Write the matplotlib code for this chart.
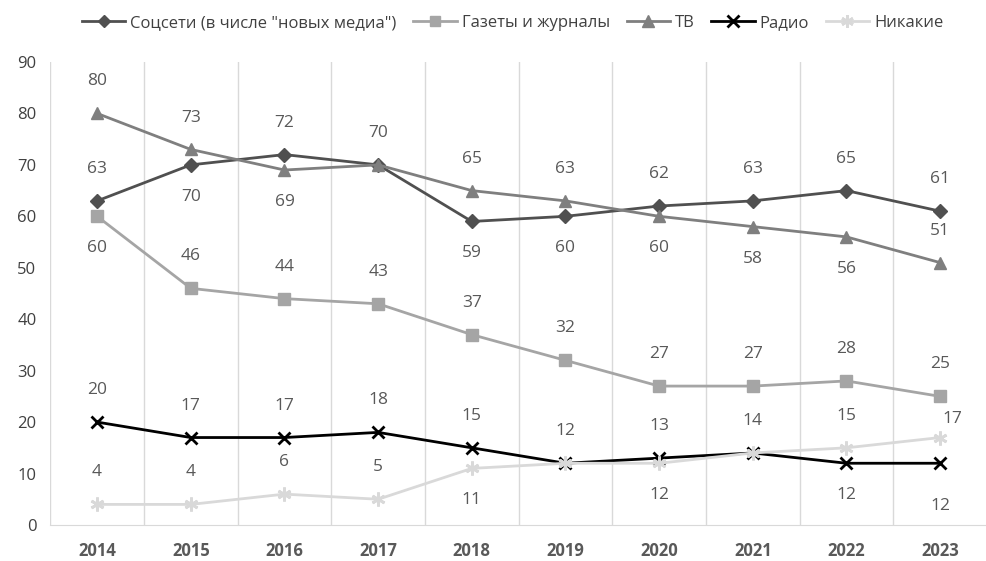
import matplotlib
matplotlib.use("Agg")
import matplotlib.pyplot as plt
from matplotlib.lines import Line2D
import numpy as np

years = ["2014", "2015", "2016", "2017", "2018", "2019", "2020", "2021", "2022", "2023"]
soc = [63, 70, 72, 70, 59, 60, 62, 63, 65, 61]
gaz = [60, 46, 44, 43, 37, 32, 27, 27, 28, 25]
tv = [80, 73, 69, 70, 65, 63, 60, 58, 56, 51]
radio = [20, 17, 17, 18, 15, 12, 13, 14, 12, 12]
none_ = [4, 4, 6, 5, 11, 12, 12, 14, 15, 17]
names = ['Соцсети (в числе "новых медиа")', "Газеты и журналы", "ТВ", "Радио", "Никакие"]

# label placement: a = above, b = below, d = far below, r = above right, n = hidden
pos_soc = "abaabbaaaa"
pos_gaz = "baaaaaaaaa"
pos_tv = "aabnaabbba"
pos_radio = "aaaaaaaabd"
pos_none = "aaaabnbnar"

OFFSETS = {"a": (0, 23), "b": (0, -23), "d": (0, -31), "r": (9, 13)}

plt.rcParams['font.family'] = ['Open Sans', 'DejaVu Sans']

fig = plt.figure(figsize=(9.86, 5.61), dpi=100)
ax = fig.add_axes([0.051, 0.0642, 0.950, 0.8253])

x = np.arange(len(years))
ast = (6, 2, 0)
series = [
    (soc, "#505050", "D", 7, pos_soc),
    (gaz, "#a5a5a5", "s", 8, pos_gaz),
    (tv, "#7f7f7f", "^", 9, pos_tv),
    (radio, "#000000", "x", 9, pos_radio),
    (none_, "#d9d9d9", ast, 10, pos_none),
]
handles = []
for (vals, col, mk, ms, pos), name in zip(series, names):
    mew = 2 if mk in ("x", ast) else 1
    ax.plot(x, vals, color=col, lw=2, marker=mk, markersize=ms,
            markeredgewidth=mew, markerfacecolor=col, markeredgecolor=col, zorder=3)
    handles.append(Line2D([0], [0], color=col, lw=2, marker=mk, markersize=ms - 1,
                          markeredgewidth=mew, markerfacecolor=col, markeredgecolor=col))
    for xi, v, p in zip(x, vals, pos):
        if p == "n":
            continue
        ax.annotate(str(v), (xi, v), xytext=OFFSETS[p], textcoords="offset points",
                    ha="center", va="center", fontsize=12.5, color="#595959", zorder=4)

ax.set_xlim(-0.5, len(years) - 0.5)
ax.set_ylim(0, 90)
ax.set_yticks(range(0, 91, 10))
ax.set_xticks(x)
ax.set_xticklabels(years, fontsize=12, fontweight="bold", color="#595959")
for t in ax.get_yticklabels():
    t.set_fontsize(12)
    t.set_color("#404040")
ax.tick_params(axis="both", length=0)
ax.tick_params(axis="x", pad=12)
ax.tick_params(axis="y", pad=10)
for b in np.arange(-0.5, len(years) + 0.5, 1):
    ax.axvline(b, color="#d9d9d9", lw=1, zorder=1)
for s in ["top", "right", "left"]:
    ax.spines[s].set_visible(False)
ax.spines["bottom"].set_color("#d9d9d9")

fig.legend(handles, names, loc="upper center", bbox_to_anchor=(0.52, 1.0), ncol=5,
           frameon=False, fontsize=12, handlelength=2.6, handletextpad=0.3,
           columnspacing=1.0, labelcolor="#404040")

fig.savefig("out.png", dpi=100)
